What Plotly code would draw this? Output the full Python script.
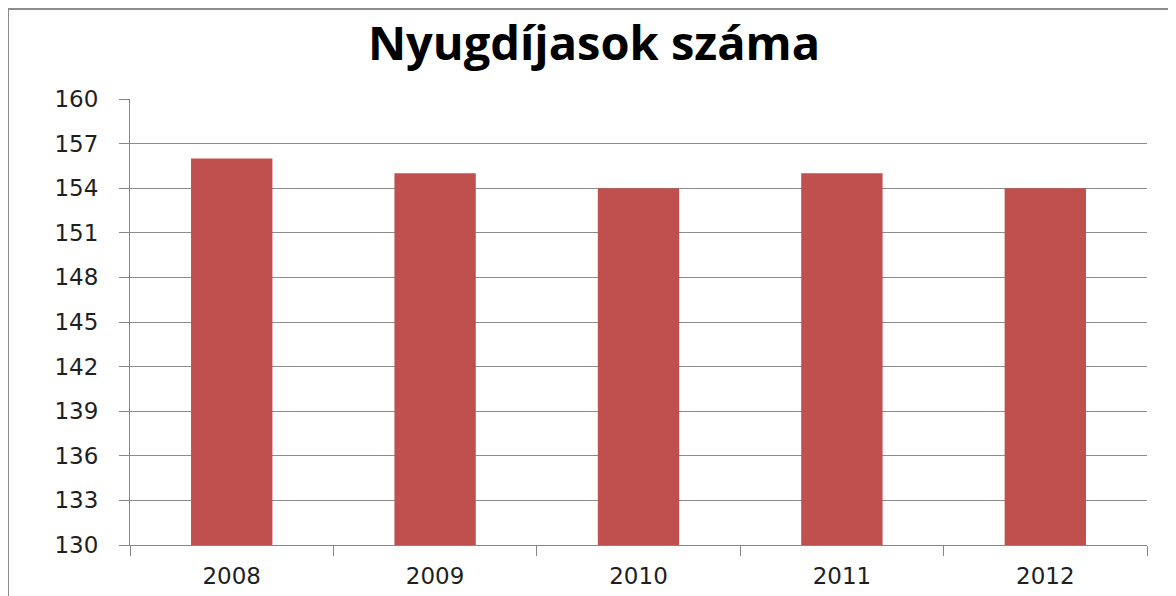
import plotly.graph_objects as go

years = ["2008", "2009", "2010", "2011", "2012"]
values = [156, 155, 154, 155, 154]
y_ticks = [130, 133, 136, 139, 142, 145, 148, 151, 154, 157, 160]
title_text = "Nyugdíjasok száma"

# page body has an 8px margin; compensate so the picture lines up with the window
OFF = 8
W, H = 1176 - OFF, 596 - OFF
L, R, T, B = 130 - OFF, 29, 99 - OFF, 51
pw, ph = W - L - R, H - T - B

fig = go.Figure(go.Bar(
    x=years, y=values, width=0.4,
    marker=dict(color="#C0504D", line=dict(width=0)),
))

axis_col = "#868686"
fig.update_layout(
    width=W, height=H,
    margin=dict(l=L, r=R, t=T, b=B, autoexpand=False),
    paper_bgcolor="white", plot_bgcolor="white",
    showlegend=False,
    title=dict(text="<b>" + title_text + "</b>", x=(594 - OFF) / W, xanchor="center",
               y=1 - (44 - OFF) / H, yanchor="middle",
               font=dict(family="Open Sans", size=47, color="#000000")),
    font=dict(family="DejaVu Sans", size=23, color="#1f1f1f"),
)
fig.update_xaxes(
    type="category", tickson="boundaries", ticks="outside", ticklen=10,
    tickcolor=axis_col, tickwidth=1, showline=True, linecolor=axis_col, linewidth=1,
    showgrid=False, ticklabelstandoff=10, tickfont=dict(size=23, color="#1f1f1f"),
)
fig.update_yaxes(
    range=[130, 160], tickvals=y_ticks, ticks="outside", ticklen=10,
    tickcolor=axis_col, tickwidth=1, showline=True, linecolor=axis_col, linewidth=1,
    showgrid=True, gridcolor="#8c8c8c", gridwidth=1, zeroline=False,
    ticklabelstandoff=16, tickfont=dict(size=23, color="#1f1f1f"),
)

# outer chart border (left and top edges visible)
fig.add_shape(type="rect", xref="paper", yref="paper",
              x0=(0 - L) / pw, x1=(W + 20 - L) / pw,
              y0=(H - B - (H + 20)) / ph, y1=(H - B - 1) / ph,
              line=dict(color="#8c8c8c", width=2), fillcolor="rgba(0,0,0,0)", layer="above")

fig.write_html("out.html")
